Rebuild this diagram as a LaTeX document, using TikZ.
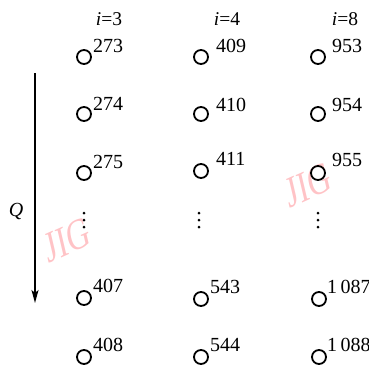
\documentclass[tikz,border=0pt]{standalone}
\usepackage{fontspec}
\setmainfont{Liberation Serif}
\usetikzlibrary{arrows.meta}
\tikzset{
  ring/.style={circle,draw,line width=1.8bp,minimum size=14bp,inner sep=0pt},
  num/.style={anchor=base west,inner sep=0pt,font=\fontsize{20bp}{23bp}\selectfont},
  head/.style={anchor=base,inner sep=0pt,font=\fontsize{19.5bp}{22bp}\selectfont},
  vdot/.style={circle,fill,inner sep=0pt,minimum size=3bp},
  wmark/.style={text={rgb,255:red,255;green,195;blue,198},font=\fontsize{44bp}{48bp}\selectfont,xscale=0.72,rotate=18,inner sep=0pt}
}
\begin{document}
\begin{tikzpicture}[x=1bp,y=-1bp]
\useasboundingbox (0,0) rectangle (369,369);
% watermarks
\node[wmark] (w1) at (67,240) {JIG};
\node[wmark] (w2) at (308,185) {JIG};
% headers
\node[head] (h1) at (109,25) {\textit{i}=3};
\node[head] (h2) at (227,25) {\textit{i}=4};
\node[head] (h3) at (345,25) {\textit{i}=8};
% column 1
\node[ring] (a1) at (84,57) {};
\node[ring] (a2) at (84,114) {};
\node[ring] (a3) at (84,173) {};
\node[ring] (a4) at (84,298) {};
\node[ring] (a5) at (84,357) {};
\node[num] (na1) at (93,52) {273};
\node[num] (na2) at (93,110) {274};
\node[num] (na3) at (93,168) {275};
\node[num] (na4) at (93,292) {407};
\node[num] (na5) at (93,351) {408};
\node[vdot] (da1) at (84,213) {};
\node[vdot] (da2) at (84,220) {};
\node[vdot] (da3) at (84,227) {};
% column 2
\node[ring] (b1) at (201,57) {};
\node[ring] (b2) at (201,114) {};
\node[ring] (b3) at (201,171) {};
\node[ring] (b4) at (201,299) {};
\node[ring] (b5) at (201,357) {};
\node[num] (nb1) at (216,52) {409};
\node[num] (nb2) at (216,111) {410};
\node[num] (nb3) at (216,165) {411};
\node[num] (nb4) at (210,293) {543};
\node[num] (nb5) at (210,351) {544};
\node[vdot] (db1) at (199,213) {};
\node[vdot] (db2) at (199,220) {};
\node[vdot] (db3) at (199,227) {};
% column 3
\node[ring] (c1) at (318,57) {};
\node[ring] (c2) at (318,114) {};
\node[ring] (c3) at (318,173) {};
\node[ring] (c4) at (319,299) {};
\node[ring] (c5) at (319,357) {};
\node[num] (nc1) at (332,52) {953};
\node[num] (nc2) at (332,111) {954};
\node[num] (nc3) at (332,166) {955};
\node[num] (nc4) at (327,293) {1\,087};
\node[num] (nc5) at (327,351) {1\,088};
\node[vdot] (dc1) at (318,213) {};
\node[vdot] (dc2) at (318,220) {};
\node[vdot] (dc3) at (318,227) {};
% arrow
\coordinate (qs) at (35,73);
\coordinate (qe) at (35,303);
\draw[line width=1.6bp,-{Stealth[length=13bp,width=7bp,inset=3bp]}] (qs) -- (qe);
\node[font=\fontsize{20bp}{23bp}\selectfont,inner sep=0pt] (q) at (16,211) {\textit{Q}};
\end{tikzpicture}
\end{document}
